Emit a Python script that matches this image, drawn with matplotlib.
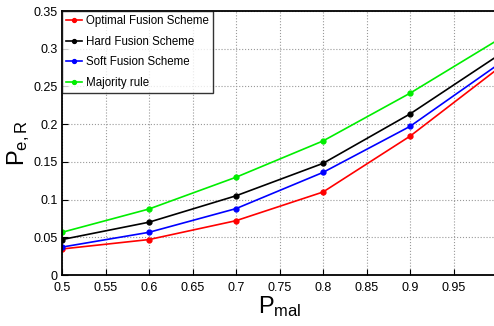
import matplotlib
matplotlib.use("Agg")
import matplotlib.pyplot as plt

plt.rcParams['font.family'] = ['Liberation Sans', 'DejaVu Sans']
plt.rcParams['mathtext.fontset'] = 'custom'
plt.rcParams['mathtext.rm'] = 'Liberation Sans'

p_mal = [0.5, 0.6, 0.7, 0.8, 0.9, 1.0]
optimal = [0.0345, 0.047, 0.072, 0.110, 0.184, 0.2726]
hard = [0.047, 0.070, 0.105, 0.148, 0.2135, 0.290]
soft = [0.037, 0.0566, 0.088, 0.136, 0.197, 0.278]
majority = [0.0566, 0.0875, 0.1296, 0.1777, 0.241, 0.311]

labels = ["Optimal Fusion Scheme", "Hard Fusion Scheme", "Soft Fusion Scheme", "Majority rule"]
colors = ["#ff0000", "#000000", "#0000ff", "#00ee00"]
xticks = [0.5, 0.55, 0.6, 0.65, 0.7, 0.75, 0.8, 0.85, 0.9, 0.95]
xticklabels = ["0.5", "0.55", "0.6", "0.65", "0.7", "0.75", "0.8", "0.85", "0.9", "0.95"]
yticks = [0, 0.05, 0.1, 0.15, 0.2, 0.25, 0.3, 0.35]
yticklabels = ["0", "0.05", "0.1", "0.15", "0.2", "0.25", "0.3", "0.35"]

fig = plt.figure(figsize=(4.94, 3.26), dpi=100)
ax = fig.add_axes([62/494, 51/326, 435/494, 264/326])

for ys, lab, c in zip([optimal, hard, soft, majority], labels, colors):
    ax.plot(p_mal, ys, color=c, marker='.', markersize=7, linewidth=1.2, label=lab)

ax.set_xlim(0.5, 1.0)
ax.set_ylim(0, 0.35)
ax.set_xticks(xticks)
ax.set_xticklabels(xticklabels)
ax.set_yticks(yticks)
ax.set_yticklabels(yticklabels)
ax.tick_params(direction='in', labelsize=9, length=4, width=0.8)
ax.tick_params(axis='x', pad=5)
ax.tick_params(axis='y', pad=3)
ax.grid(True, linestyle=':', color='#999999', linewidth=0.8)
for s in ax.spines.values():
    s.set_linewidth(1.3)

ax.set_xlabel(r"$\mathregular{P_{mal}}$", fontsize=17, labelpad=0)
ax.set_ylabel(r"$\mathregular{P_{e,R}}$", fontsize=17, labelpad=1)

leg = ax.legend(loc='upper left', fontsize=8.3, frameon=True, fancybox=False,
                borderaxespad=0, handlelength=1.4, handletextpad=0.3,
                borderpad=0.35, labelspacing=0.75, markerscale=0.8)
leg.get_frame().set_edgecolor('black')
leg.get_frame().set_linewidth(1.0)

fig.savefig("out.png", dpi=100)
